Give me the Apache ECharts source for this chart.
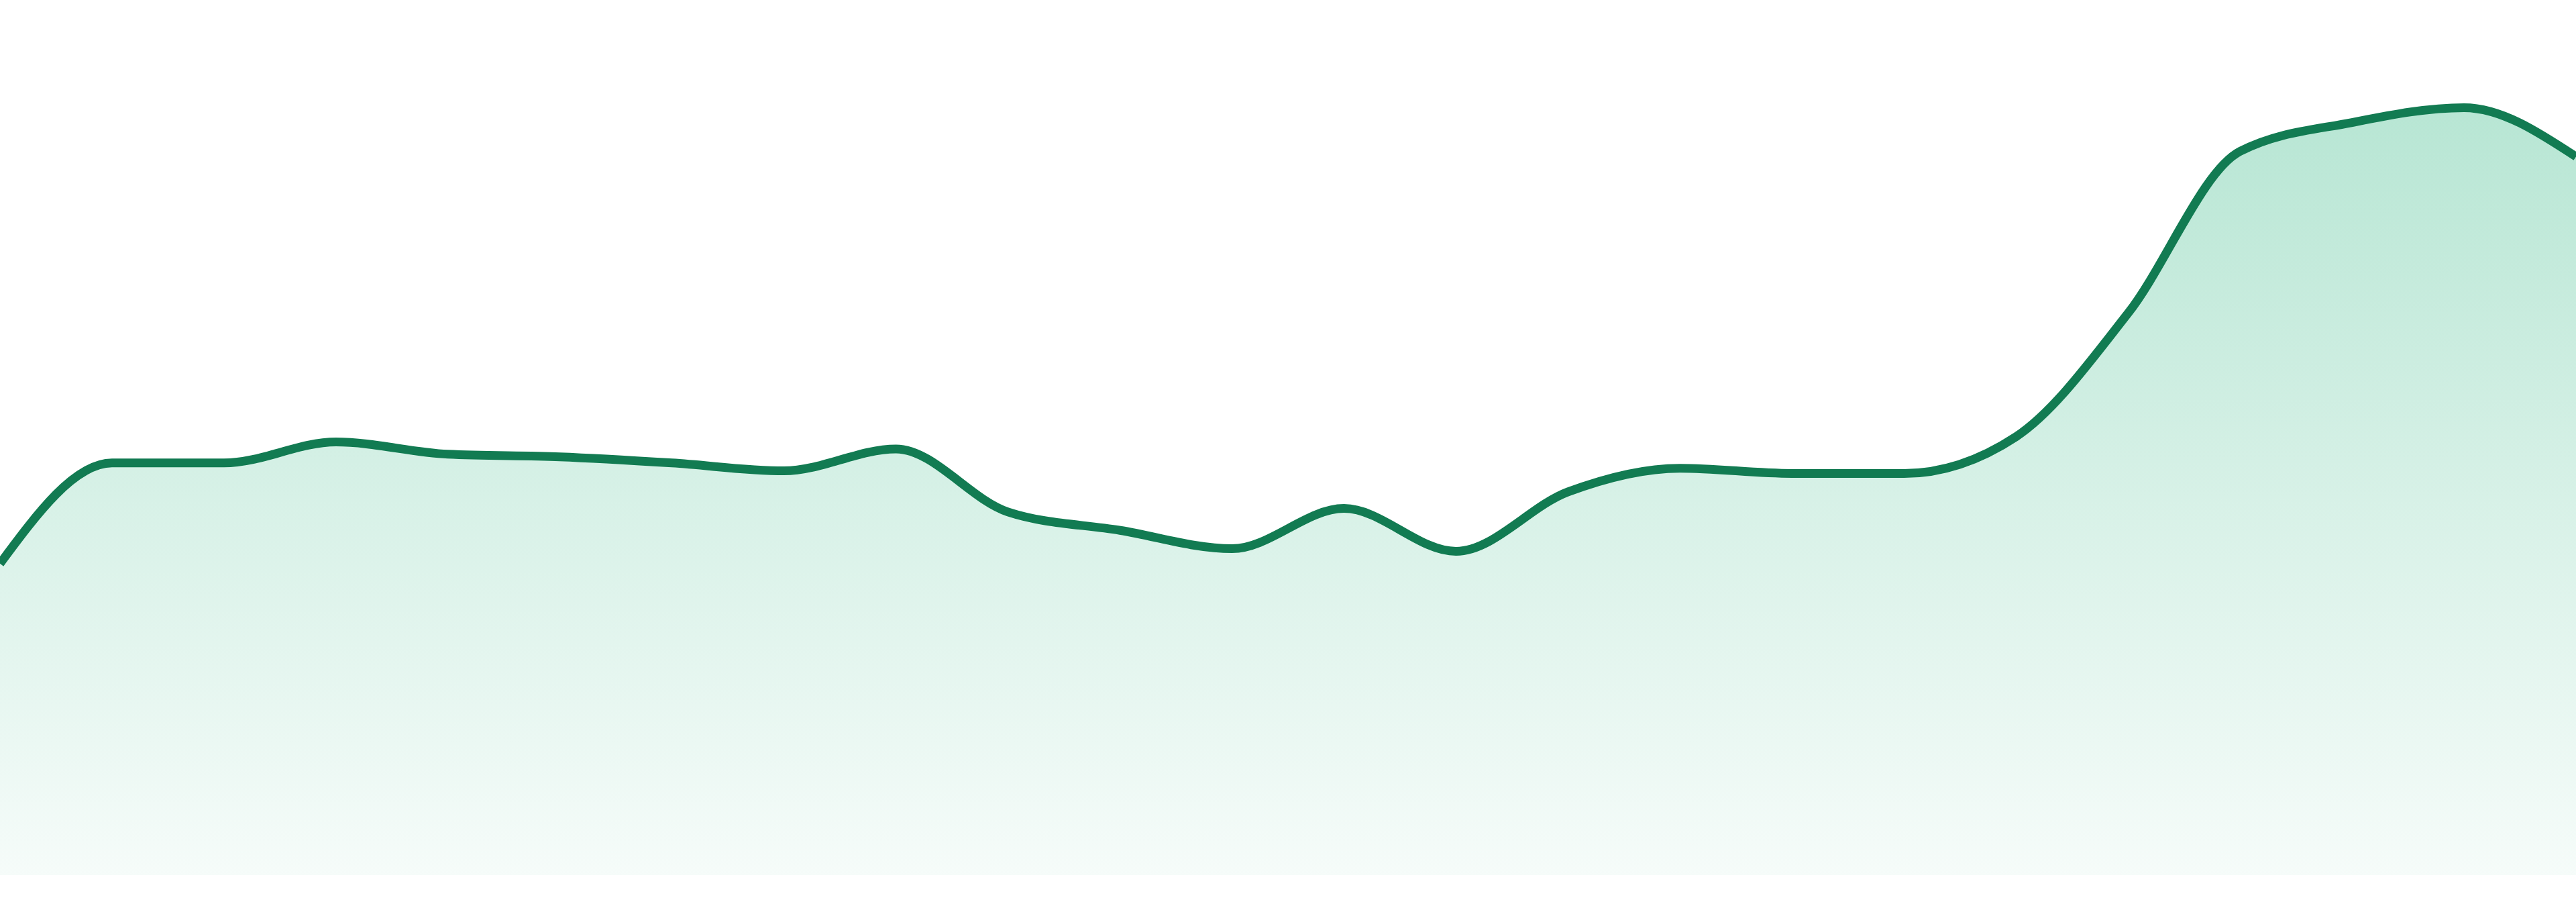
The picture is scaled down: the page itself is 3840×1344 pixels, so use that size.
<!DOCTYPE html>
<html>
<head>
<meta charset="utf-8">
<title>Area sparkline</title>
<script src="https://cdn.jsdelivr.net/npm/echarts@6/dist/echarts.min.js"></script>
<style>
  html, body { margin: 0; padding: 0; background: #ffffff; }
  #chart { width: 3840px; height: 1344px; }
</style>
</head>
<body>
<div id="chart"></div>
<script>
// 24 samples
const categories = ['1', '2', '3', '4', '5', '6', '7', '8', '9', '10', '11', '12',
  '13', '14', '15', '16', '17', '18', '19', '20', '21', '22', '23', '24'];
const values = [35.6, 47.1, 47.1, 49.5, 48.1, 47.8, 47.1, 46.2, 48.7, 41.5, 39.4, 37.3,
  41.9, 37.0, 43.8, 46.5, 45.9, 45.9, 50.1, 64.2, 82.7, 86.0, 87.7, 82.1];

const lineColor = '#127b52';
const fillTop = 'rgba(18, 172, 112, 0.30)';
const fillBottom = 'rgba(18, 172, 112, 0.04)';

// Monotone cubic (same as d3 curveMonotoneX) through pixel points
function sign(v) { return v < 0 ? -1 : 1; }

function tangents(pts) {
  const n = pts.length;
  const t = new Array(n).fill(0);
  for (let i = 1; i < n - 1; i++) {
    const h0 = pts[i][0] - pts[i - 1][0];
    const h1 = pts[i + 1][0] - pts[i][0];
    const s0 = (pts[i][1] - pts[i - 1][1]) / h0;
    const s1 = (pts[i + 1][1] - pts[i][1]) / h1;
    const p = (s0 * h1 + s1 * h0) / (h0 + h1);
    t[i] = (sign(s0) + sign(s1)) * Math.min(Math.abs(s0), Math.abs(s1), 0.5 * Math.abs(p)) || 0;
  }
  // ends: one-sided
  const hA = pts[1][0] - pts[0][0];
  t[0] = (3 * (pts[1][1] - pts[0][1]) / hA - t[1]) / 2;
  const hB = pts[n - 1][0] - pts[n - 2][0];
  t[n - 1] = (3 * (pts[n - 1][1] - pts[n - 2][1]) / hB - t[n - 2]) / 2;
  return t;
}

function curvePath(pts) {
  const t = tangents(pts);
  let d = 'M' + pts[0][0] + ' ' + pts[0][1];
  for (let i = 0; i < pts.length - 1; i++) {
    const dx = (pts[i + 1][0] - pts[i][0]) / 3;
    d += ' C' + (pts[i][0] + dx) + ' ' + (pts[i][1] + dx * t[i]) +
      ' ' + (pts[i + 1][0] - dx) + ' ' + (pts[i + 1][1] - dx * t[i + 1]) +
      ' ' + pts[i + 1][0] + ' ' + pts[i + 1][1];
  }
  return d;
}

function renderItem(params, api) {
  // whole curve is drawn once, from the first item
  if (params.dataIndex !== 0) return null;
  const pts = values.map((v, i) => api.coord([i, v]));
  const base = api.coord([0, 0])[1];
  const line = curvePath(pts);
  const last = pts[pts.length - 1];
  const area = line + ' L' + last[0] + ' ' + base + ' L' + pts[0][0] + ' ' + base + ' Z';

  return {
    type: 'group',
    children: [
      {
        type: 'path',
        shape: { pathData: area },
        style: {
          fill: new echarts.graphic.LinearGradient(0, 0, 0, 1, [
            { offset: 0, color: fillTop },
            { offset: 1, color: fillBottom },
          ]),
          stroke: null,
        },
      },
      {
        type: 'path',
        shape: { pathData: line },
        style: { fill: null, stroke: lineColor, lineWidth: 13, lineJoin: 'round' },
      },
    ],
  };
}

const chart = echarts.init(document.getElementById('chart'), null, { renderer: 'canvas' });

chart.setOption({
  backgroundColor: '#ffffff',
  animation: false,
  grid: { left: 0, right: 0, top: 0, bottom: 40 },
  xAxis: {
    type: 'category',
    data: categories,
    boundaryGap: false,
    show: false,
  },
  yAxis: {
    type: 'value',
    min: 0,
    max: 100,
    show: false,
  },
  series: [{
    type: 'custom',
    renderItem: renderItem,
    data: values.map((v, i) => [i, v]),
    encode: { x: 0, y: 1 },
    silent: true,
  }],
});
</script>
</body>
</html>
